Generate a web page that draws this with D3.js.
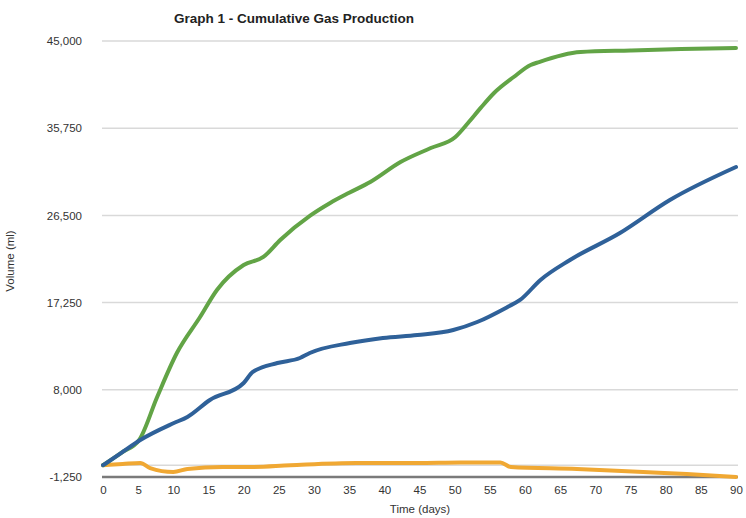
<!DOCTYPE html>
<html>
<head>
<meta charset="utf-8">
<script src="https://cdn.jsdelivr.net/npm/d3@7"></script>
<style>
  body { margin: 0; background: #fff; }
  text { font-family: "Liberation Sans", Arial, Helvetica, sans-serif; }
</style>
</head>
<body>
<div id="chart"></div>
<script>
var w = 746;
var h = 518;

// y ticks as shown on the chart
var yTicks = [-1250, 8000, 17250, 26500, 35750, 45000];
var xTicks = d3.range(0, 95, 5);

// values (day, ml)
var greenDays = [0, 2.6, 5.2, 7.7, 10.5, 13.8, 16.2, 20, 22.8, 25.2, 29.5, 32.3, 35, 38, 42.3, 46.6, 50.1, 51.9, 53.7, 55.6, 58.4, 60.8, 62, 67.9, 75, 82.2, 90];
var greenVol  = [0, 1310, 2750, 7240, 11900, 15720, 18590, 21240, 22090, 23890, 26500, 27820, 28900, 30040, 32160, 33650, 34820, 36300, 37900, 39480, 41180, 42450, 42770, 43830, 44000, 44150, 44260];

var blueDays = [0, 2.6, 5.3, 10, 12, 15.2, 20, 21.3, 24.8, 28, 29.4, 35.1, 39.8, 44.7, 49.8, 53.2, 57.5, 59.3, 62.2, 66.4, 73.5, 80.6, 90];
var blueVol  = [0, 1310, 2675, 4450, 5115, 6920, 8720, 9890, 10840, 11370, 11900, 12960, 13500, 13810, 14340, 15190, 16780, 17530, 19650, 21770, 24630, 28130, 31630];

var orangeDays = [0, 2.8, 5.3, 6.7, 10, 12, 17, 21, 26.6, 36, 44.7, 50.8, 56.5, 58, 67.4, 76.8, 83, 90];
var orangeVol  = [0, 130, 240, -300, -720, -400, -190, -190, 0, 240, 240, 300, 300, -190, -400, -720, -930, -1250];

var svg = d3.select("#chart").append("svg")
    .attr("width", w)
    .attr("height", h);

var x = d3.scaleLinear().domain([0, 90]).range([103, 736]);
var y = d3.scaleLinear().domain([-1250, 45000]).range([477, 41]);

// title
svg.append("text")
    .attr("x", 294)
    .attr("y", 23)
    .attr("text-anchor", "middle")
    .style("font-size", "13.5px")
    .style("font-weight", "bold")
    .style("fill", "#222")
    .text("Graph 1 - Cumulative Gas Production");

// gridlines (plus zero line)
var gridVals = yTicks.slice(1).concat([0]);
svg.append("g").selectAll("line")
    .data(gridVals)
    .enter().append("line")
    .attr("x1", 102)
    .attr("x2", 738)
    .attr("y1", d => y(d))
    .attr("y2", d => y(d))
    .attr("stroke", "#d9d9d9")
    .attr("stroke-width", 1.5);

// y axis labels
var fmt = d3.format(",");
var yAxis = d3.axisLeft(y)
    .tickValues(yTicks)
    .tickSize(0)
    .tickPadding(0)
    .tickFormat(d => fmt(d).replace("\u2212", "-"));

var yg = svg.append("g")
    .attr("transform", "translate(82,0)")
    .call(yAxis);
yg.select(".domain").remove();
yg.selectAll("text")
    .style("font-size", "11.5px")
    .style("fill", "#333")
    .attr("font-family", null);

// x axis
var xAxis = d3.axisBottom(x)
    .tickValues(xTicks)
    .tickSize(0)
    .tickPadding(9);

var xg = svg.append("g")
    .attr("transform", "translate(0," + y(-1250) + ")")
    .call(xAxis);
xg.select(".domain")
    .attr("stroke", "#7a7a7a")
    .attr("stroke-width", 2.5)
    .attr("d", "M102,0H738");
xg.selectAll("text")
    .style("font-size", "11.5px")
    .style("fill", "#333")
    .attr("font-family", null);

// axis titles
svg.append("text")
    .attr("x", 420)
    .attr("y", 513)
    .attr("text-anchor", "middle")
    .style("font-size", "11.5px")
    .style("fill", "#333")
    .text("Time (days)");

svg.append("text")
    .attr("transform", "translate(14,261) rotate(-90)")
    .attr("text-anchor", "middle")
    .style("font-size", "11.5px")
    .style("fill", "#333")
    .text("Volume (ml)");

// lines
var line = d3.line()
    .x(d => x(d[0]))
    .y(d => y(d[1]))
    .curve(d3.curveMonotoneX);

var series = [
    { days: orangeDays, vol: orangeVol, color: "#f0a833" },
    { days: greenDays, vol: greenVol, color: "#62a446" },
    { days: blueDays, vol: blueVol, color: "#2f6199" }
];

series.forEach(function(s) {
    var pts = s.days.map((d, i) => [d, s.vol[i]]);
    svg.append("path")
        .datum(pts)
        .attr("d", line)
        .attr("fill", "none")
        .attr("stroke", s.color)
        .attr("stroke-width", 4)
        .attr("stroke-linecap", "round")
        .attr("stroke-linejoin", "round");
});
</script>
</body>
</html>
